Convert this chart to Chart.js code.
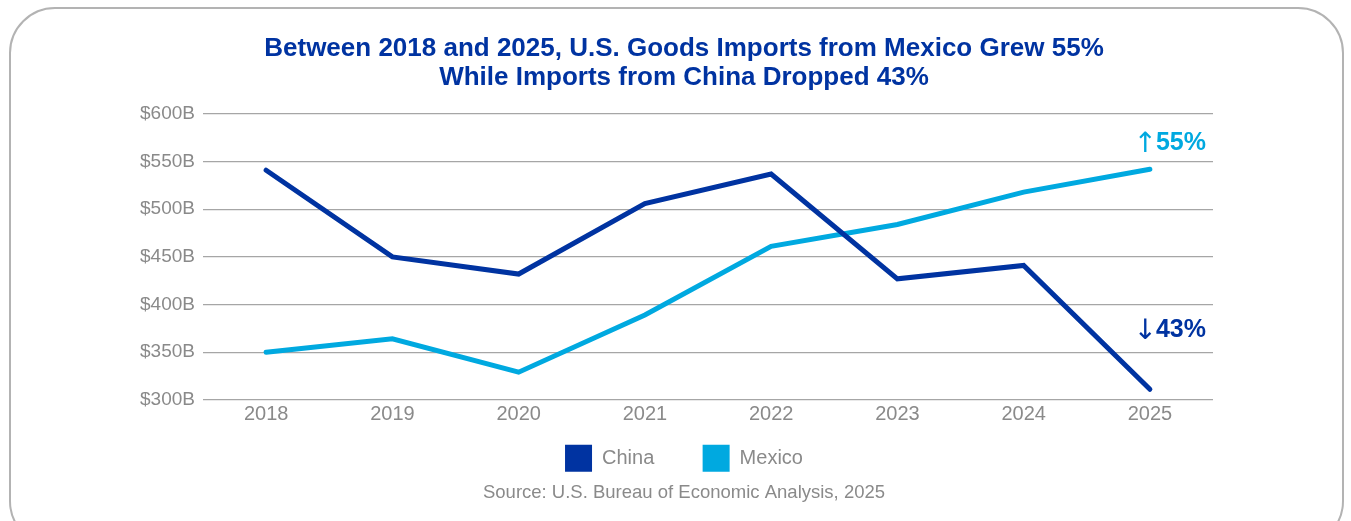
<!DOCTYPE html>
<html>
<head>
<meta charset="utf-8">
<script src="https://cdn.jsdelivr.net/npm/chart.js@4.4.1/dist/chart.umd.min.js"></script>
<style>
  html, body { margin: 0; padding: 0; background: #fff; }
  body { width: 1351px; height: 521px; overflow: hidden; position: relative; }
  #card {
    position: absolute; left: 9px; top: 7px; width: 1335px; height: 540px;
    border: 2px solid #b3b3b3; border-radius: 46px; box-sizing: border-box;
  }
  #wrap { position: absolute; left: 0; top: 0; width: 1351px; height: 521px; }
</style>
</head>
<body>
<div id="card"></div>
<div id="wrap"><canvas id="grafiek"></canvas></div>
<script>
"use strict";
const jaren = ['2018', '2019', '2020', '2021', '2022', '2023', '2024', '2025'];
const china = [541, 450, 432, 506, 537, 427, 441, 311];
const mexico = [350, 364, 329, 389, 461, 484, 518, 542];
const yTicks = [300, 350, 400, 450, 500, 550, 600];
const titelRegels = ['Between 2018 and 2025, U.S. Goods Imports from Mexico Grew 55%', 'While Imports from China Dropped 43%'];
const bron = 'Source: U.S. Bureau of Economic Analysis, 2025';

const donkerBlauw = '#0033a1';
const lichtBlauw = '#00a9e0';
const grijs = '#8a8a8a';
const lettertype = '"Liberation Sans", Arial, Helvetica, sans-serif';

// labels met pijl rechts in de grafiek
function pijlTekst(ctx, pijl, tekst, x, y, kleur) {
    ctx.fillStyle = kleur;
    ctx.font = 'bold 25px ' + lettertype;
    ctx.fillText(tekst, x, y);
    const w = ctx.measureText(tekst).width;
    ctx.font = '28px "DejaVu Sans"';
    ctx.fillText(pijl, x - w + 1, y + 1);
}
const pijlLabels = {
    id: 'pijlLabels',
    afterDatasetsDraw(chart) {
        const {ctx, chartArea, scales} = chart;
        ctx.save();
        ctx.textAlign = 'right';
        ctx.textBaseline = 'middle';
        pijlTekst(ctx, '\u2191', '55%', chartArea.right - 7, scales.y.getPixelForValue(569), lichtBlauw);
        pijlTekst(ctx, '\u2193', '43%', chartArea.right - 7, scales.y.getPixelForValue(373), donkerBlauw);
        ctx.restore();
    }
};

Chart.defaults.font.family = lettertype;
Chart.defaults.devicePixelRatio = 1;

const ctx = document.getElementById('grafiek');
const chart = new Chart(ctx, {
    type: 'line',
    data: {
        labels: jaren,
        datasets: [
            { label: 'China', data: china, borderColor: donkerBlauw, backgroundColor: donkerBlauw, borderWidth: 5, pointRadius: 0, borderCapStyle: 'round', tension: 0 },
            { label: 'Mexico', data: mexico, borderColor: lichtBlauw, backgroundColor: lichtBlauw, borderWidth: 5, pointRadius: 0, borderCapStyle: 'round', tension: 0 }
        ]
    },
    options: {
        responsive: true,
        maintainAspectRatio: false,
        animation: false,
        layout: { padding: { left: 155, right: 138, top: 0, bottom: 17 } },
        plugins: {
            title: {
                display: true,
                text: titelRegels,
                color: donkerBlauw,
                font: { size: 26, weight: 'bold', lineHeight: 1.115 },
                padding: { top: 34, bottom: 22 }
            },
            subtitle: {
                display: true,
                position: 'bottom',
                text: bron,
                color: grijs,
                font: { size: 18.5 },
                padding: { top: 0, bottom: 0 }
            },
            legend: {
                position: 'bottom',
                labels: {
                    boxWidth: 27,
                    boxHeight: 27,
                    padding: 15,
                    color: grijs,
                    font: { size: 20 },
                    // extra ruimte tussen China en Mexico, geen rand om het vakje
                    generateLabels: (c) => {
                        const items = Chart.defaults.plugins.legend.labels.generateLabels(c);
                        items[0].text = items[0].text + '      ';
                        items.forEach(it => { it.lineWidth = 0; });
                        return items;
                    }
                }
            },
            tooltip: { enabled: false }
        },
        scales: {
            x: {
                offset: true,
                grid: { display: false, drawTicks: false },
                border: { display: false },
                ticks: { color: grijs, font: { size: 20 }, padding: 3 }
            },
            y: {
                min: 300,
                max: 600,
                afterBuildTicks: (as) => { as.ticks = yTicks.map(v => ({ value: v })); },
                afterFit: (as) => { as.width = 48; },
                grid: { color: '#a6a6a6', lineWidth: 1.3, drawTicks: false },
                border: { display: false },
                // mirror zodat de labels niet afgeknipt worden
                ticks: { color: grijs, font: { size: 19 }, mirror: true, crossAlign: 'near', padding: -63, callback: (v) => '$' + v + 'B' }
            }
        }
    },
    plugins: [pijlLabels]
});
</script>
</body>
</html>
